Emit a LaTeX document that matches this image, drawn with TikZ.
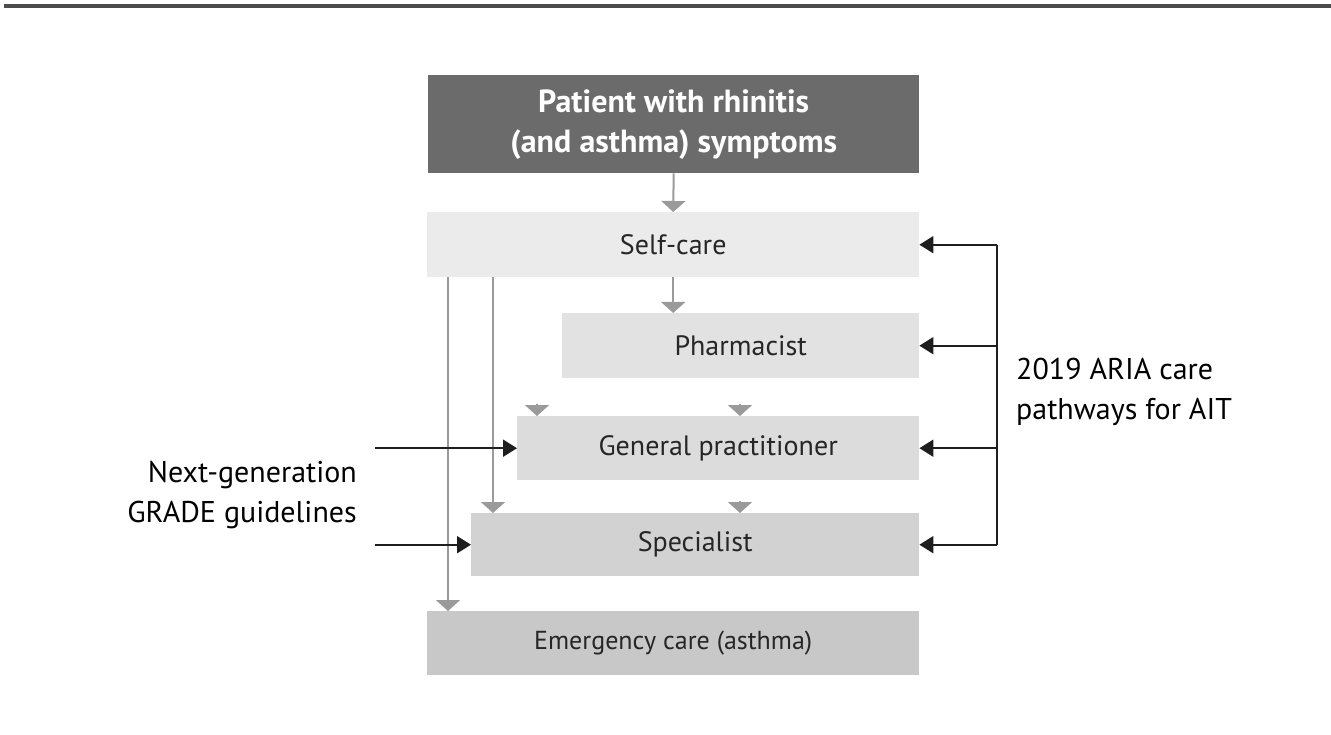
\documentclass[tikz,border=0pt]{standalone}
\usepackage{fontspec}
\setmainfont{PT Sans}
\usetikzlibrary{arrows.meta,calc}
\definecolor{cpat}{HTML}{6B6B6B}
\definecolor{cself}{HTML}{EBEBEB}
\definecolor{cpharm}{HTML}{E2E2E2}
\definecolor{cgp}{HTML}{DCDCDC}
\definecolor{cspec}{HTML}{D2D2D2}
\definecolor{cemer}{HTML}{C8C8C8}
\definecolor{garrowc}{HTML}{9A9A9A}
\definecolor{barrowc}{HTML}{1E1E1E}
\tikzset{
  box/.style={rectangle, inner sep=0pt, draw=none, anchor=north west, text=black!85,
    font=\fontsize{28}{40}\selectfont, align=center},
  garrow/.style={draw=garrowc, line width=2pt, -{Triangle[length=11pt,width=24pt]}},
  barrow/.style={draw=barrowc, line width=2pt, -{Triangle[length=14pt,width=17pt]}},
  bline/.style={draw=barrowc, line width=2pt},
  lbl/.style={font=\fontsize{30}{40}\selectfont, text=black, inner sep=0pt}
}
\begin{document}
\begin{tikzpicture}[x=1pt,y=-1pt]
\useasboundingbox (0,0) rectangle (1331,735);
\draw[line width=4pt, color=black!70] (4,6) -- (1331,6);

\node[box, fill=cpat, minimum width=491pt, minimum height=98pt, text=white, font=\bfseries\fontsize{32}{40}\selectfont] (pat) at (428,75) {Patient with rhinitis\\(and asthma) symptoms};
\node[box, fill=cself, minimum width=492pt, minimum height=65pt] (self) at (427,212) {Self-care};
\node[box, fill=cpharm, minimum width=357pt, minimum height=65pt] (pharm) at (562,313) {Pharmacist};
\node[box, fill=cgp, minimum width=402pt, minimum height=64pt] (gp) at (517,416) {General practitioner};
\node[box, fill=cspec, minimum width=448pt, minimum height=63pt] (spec) at (471,513) {Specialist};
\node[box, fill=cemer, minimum width=492pt, minimum height=64pt, font=\fontsize{26}{40}\selectfont] (emer) at (427,611) {Emergency care (asthma)};

\node[lbl, anchor=east, align=right] (grade) at (357,495) {Next-generation\\GRADE guidelines};
\node[lbl, anchor=west, align=left] (aria) at (1016,392) {2019 ARIA care\\pathways for AIT};

% gray flow arrows
\draw[garrow] (pat.south) -- (self.north);
\draw[garrow] (self.south) -- (self.south |- pharm.north);
\draw[garrow] (self.south west) ++(21,0) coordinate (s1) -- (s1 |- emer.north);
\draw[garrow] (self.south west) ++(66,0) coordinate (s2) -- (s2 |- spec.north);
\coordinate (t1) at (537,404);
\coordinate (t2) at (740,404);
\coordinate (t3) at (740,501);
\draw[garrow] (t1) -- (t1 |- gp.north);
\draw[garrow] (t2) -- (t2 |- gp.north);
\draw[garrow] (t3) -- (t3 |- spec.north);

% right bracket arrows
\coordinate (rv) at (997,0);
\draw[bline] (rv |- self.east) -- (rv |- spec.east);
\draw[barrow] (rv |- self.east) -- (self.east);
\draw[barrow] (rv |- pharm.east) -- (pharm.east);
\draw[barrow] (rv |- gp.east) -- (gp.east);
\draw[barrow] (rv |- spec.east) -- (spec.east);

% left arrows
\coordinate (lx) at (375,0);
\draw[barrow] (lx |- gp.west) -- (gp.west);
\draw[barrow] (lx |- spec.west) -- (spec.west);
\end{tikzpicture}
\end{document}
